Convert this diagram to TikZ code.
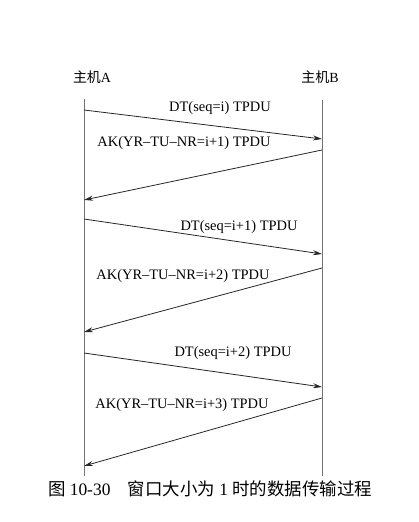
\documentclass[tikz,border=0pt]{standalone}
\usepackage{fontspec}
\setmainfont{Liberation Serif}
\newfontfamily\cjk{Noto Sans CJK SC}
\usetikzlibrary{arrows.meta}
\begin{document}
\begin{tikzpicture}[
    x=1bp,y=-1bp,
    host/.style={font=\fontsize{14}{16}\selectfont},
    msg/.style={font=\fontsize{14.5}{16}\selectfont,inner sep=0pt},
    life/.style={draw=black!55,line width=0.9bp},
    arr/.style={-{Stealth[length=9bp,width=5bp]},line width=0.8bp,draw=black!85}
]
\useasboundingbox (0,0) rectangle (418,522);
% hosts and lifelines
\node[host] (hostA) at (92,77) {{\cjk 主机}A};
\node[host] (hostB) at (320,77) {{\cjk 主机}B};
\coordinate (atop) at (84,99);
\coordinate (abot) at (84,476);
\coordinate (btop) at (322,100);
\coordinate (bbot) at (322,476);
\draw[life] (atop) -- (abot);
\draw[life] (btop) -- (bbot);
% end points on the lifelines
\coordinate (a1) at (84,110);  \coordinate (b1) at (322,139);
\coordinate (b2) at (322,150); \coordinate (a2) at (84,200);
\coordinate (a3) at (84,219);  \coordinate (b3) at (322,254);
\coordinate (b4) at (322,268); \coordinate (a4) at (84,332);
\coordinate (a5) at (84,353);  \coordinate (b5) at (322,387);
\coordinate (b6) at (322,398); \coordinate (a6) at (84,466);
% messages
\draw[arr] (a1) -- (b1);
\draw[arr] (b2) -- (a2);
\draw[arr] (a3) -- (b3);
\draw[arr] (b4) -- (a4);
\draw[arr] (a5) -- (b5);
\draw[arr] (b6) -- (a6);
\node[msg] (dt1) at (220,108) {DT(seq=i) TPDU};
\node[msg] (ak1) at (184,143) {AK(YR--TU--NR=i+1) TPDU};
\node[msg] (dt2) at (239,227) {DT(seq=i+1) TPDU};
\node[msg] (ak2) at (183,276) {AK(YR--TU--NR=i+2) TPDU};
\node[msg] (dt3) at (233,353) {DT(seq=i+2) TPDU};
\node[msg] (ak3) at (182,405) {AK(YR--TU--NR=i+3) TPDU};
% caption
\node[font=\fontsize{17.5}{19}\selectfont] (cap) at (210,489)
    {{\cjk 图} 10-30\quad{\cjk 窗口大小为} 1 {\cjk 时的数据传输过程}};
\end{tikzpicture}
\end{document}
